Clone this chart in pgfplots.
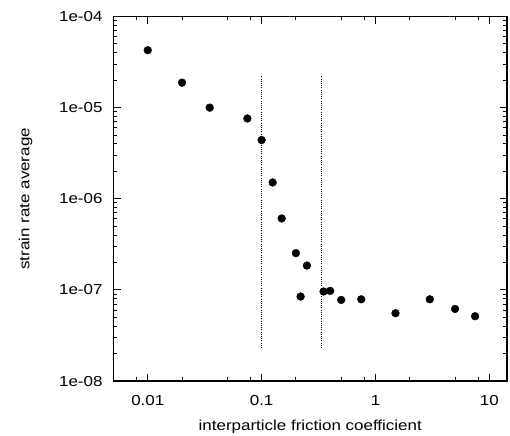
\documentclass[border=0pt]{standalone}
\usepackage{fontspec}
\setmainfont{Liberation Sans}[FakeStretch=1.17]
\usepackage{pgfplots}
\pgfplotsset{compat=1.18}
\newcommand\lblfont{\fontsize{14.5bp}{17bp}\selectfont}
\begin{document}
\begin{tikzpicture}
\useasboundingbox (0,0) rectangle (510bp,436bp);
\begin{axis}[
  at={(113.5bp,55bp)}, anchor=south west,
  width=393.5bp, height=364.5bp, scale only axis,
  xmode=log, ymode=log,
  xmin=0.005, xmax=14.3, ymin=1e-8, ymax=1e-4,
  xtick={0.01,0.1,1,10}, xticklabels={0.01,0.1,1,10},
  minor xtick={0.008,0.02,0.05,0.08,0.2,0.5,0.8,2,5,8},
  ytick={1e-8,1e-7,1e-6,1e-5,1e-4},
  yticklabels={1e-08,1e-07,1e-06,1e-05,1e-04},
  minor ytick={2e-8,3e-8,4e-8,5e-8,6e-8,7e-8,8e-8,9e-8,
               2e-7,3e-7,4e-7,5e-7,6e-7,7e-7,8e-7,9e-7,
               2e-6,3e-6,4e-6,5e-6,6e-6,7e-6,8e-6,9e-6,
               2e-5,3e-5,4e-5,5e-5,6e-5,7e-5,8e-5,9e-5},
  tick align=inside, major tick length=7.5bp, minor tick length=4bp,
  axis line style={line width=1.1bp, black},
  every tick/.style={black, line width=1bp},
  /pgf/number format/assume math mode=true,
  every tick label/.append style={font=\lblfont},
  yticklabel style={anchor=east, inner sep=0pt, xshift=-10.8bp},
  xticklabel style={anchor=north, inner sep=0pt, yshift=-14bp},
  xlabel={interparticle friction coefficient},
  xlabel style={at={([yshift=-49.5bp]axis description cs:0.5,0)}, anchor=base, inner sep=0pt, font=\lblfont},
  ylabel={strain rate average},
  ylabel style={at={([xshift=-84.2bp]axis description cs:0,0.5)}, anchor=base, inner sep=0pt, font=\lblfont},
]
\addplot[black, line width=1bp, dash pattern=on 1bp off 1.2bp] coordinates {(0.1,2.3e-8) (0.1,2.2e-5)};
\addplot[black, line width=1bp, dash pattern=on 1bp off 1.2bp] coordinates {(0.333,2.3e-8) (0.333,2.2e-5)};
\addplot[only marks, mark=*, mark size=3.9bp, black] coordinates {
(0.01,4.27e-5)
(0.02,1.88e-5)
(0.035,1.0e-5)
(0.075,7.6e-6)
(0.1,4.41e-6)
(0.125,1.51e-6)
(0.15,6.08e-7)
(0.2,2.53e-7)
(0.22,8.45e-8)
(0.25,1.85e-7)
(0.35,9.6e-8)
(0.4,9.75e-8)
(0.5,7.76e-8)
(0.75,7.88e-8)
(1.5,5.55e-8)
(3,7.88e-8)
(5,6.18e-8)
(7.5,5.14e-8)
};
\end{axis}
\end{tikzpicture}
\end{document}
